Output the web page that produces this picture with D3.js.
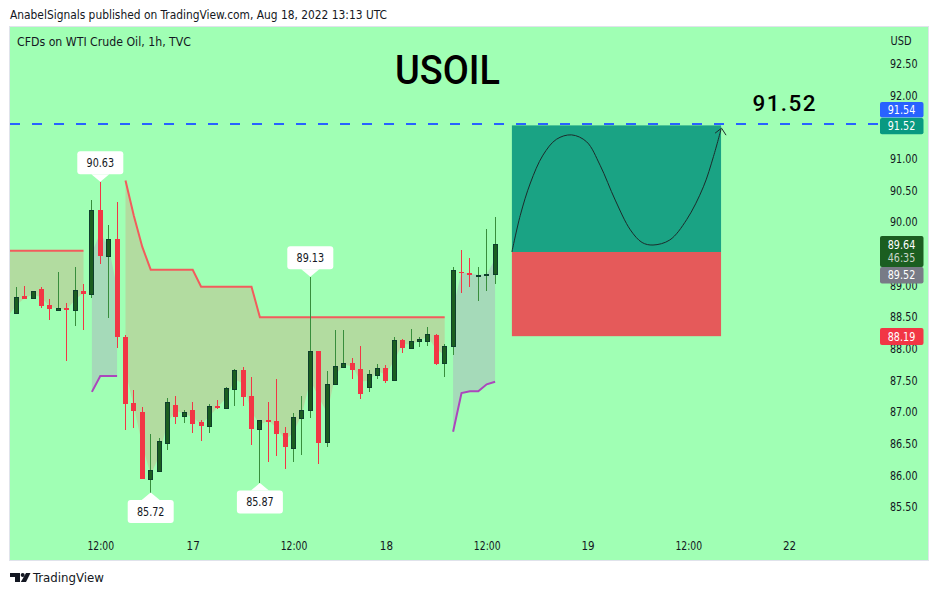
<!DOCTYPE html>
<html><head><meta charset="utf-8">
<script src="https://cdn.jsdelivr.net/npm/d3@7"></script>
<style>html,body{margin:0;padding:0;background:#fff}svg{display:block}
text{font-family:"DejaVu Sans",sans-serif;font-stretch:condensed}</style></head>
<body><svg id="c" width="938" height="595"></svg>
<script>
const opens =[88.47,88.55,88.82,88.79,88.93,88.69,88.61,88.63,88.60,88.91,88.85,90.18,89.46,89.73,88.17,87.13,87.00,85.93,86.06,86.51,87.10,86.93,87.02,86.83,86.77,87.09,87.06,87.36,87.66,87.25,86.73,86.87,86.85,86.66,86.43,86.89,87.03,87.96,86.52,87.44,87.71,87.77,87.67,87.38,87.58,87.69,87.49,88.13,88.00,88.11,88.12,88.21,87.76,88.03,89.21,89.19,89.16,89.16,89.17];
const highs =[88.60,88.96,88.99,88.91,88.96,88.77,89.21,88.71,89.29,89.01,90.34,90.63,89.94,90.31,88.21,87.34,87.07,86.64,86.58,87.21,87.25,87.02,87.15,86.87,87.12,87.18,87.39,87.67,87.71,87.55,86.86,87.15,87.52,86.75,86.98,87.25,89.13,87.96,87.64,88.28,88.28,87.85,88.04,87.66,87.75,87.74,88.18,88.15,88.31,88.18,88.34,88.23,88.07,89.28,89.55,89.42,89.29,89.88,90.07];
const lows  =[88.40,88.55,88.77,88.79,88.63,88.44,88.58,87.80,88.35,88.28,88.79,89.33,88.47,88.01,86.70,86.74,85.93,85.72,86.04,86.39,86.80,86.82,86.66,86.53,86.66,87.04,87.06,87.08,87.09,86.47,85.87,86.20,86.29,86.09,86.20,86.31,86.90,86.17,86.44,87.44,87.71,87.52,87.20,87.31,87.52,87.45,87.49,87.93,88.00,88.02,88.04,87.74,87.55,87.90,88.87,88.96,88.74,88.91,89.02];
const closes=[88.54,88.81,88.77,88.91,88.67,88.62,88.63,88.60,88.92,88.85,90.18,89.46,89.73,88.17,87.12,87.01,85.93,86.07,86.53,87.15,86.92,87.00,86.80,86.77,87.08,87.06,87.37,87.65,87.23,86.73,86.86,86.84,86.64,86.44,86.91,87.03,87.96,86.50,87.43,87.72,87.77,87.66,87.28,87.59,87.69,87.48,88.13,88.01,88.11,88.15,88.23,87.75,88.03,89.23,89.20,89.16,89.16,89.18,89.65];
const N=null;
const upperLine=[89.54,89.54,89.54,89.54,89.54,89.54,89.54,89.54,89.54,89.54,N,N,N,N,90.65,90.09,89.60,89.24,89.24,89.24,89.24,89.24,89.24,88.97,88.97,88.97,88.97,88.97,88.97,88.97,88.49,88.49,88.49,88.49,88.49,88.49,88.49,88.49,88.49,88.49,88.49,88.49,88.49,88.49,88.49,88.49,88.49,88.49,88.49,88.49,88.49,88.49,88.49,N,N,N,N,N,N];
const lowerLine=[N,N,N,N,N,N,N,N,N,N,87.31,87.56,87.56,87.56,N,N,N,N,N,N,N,N,N,N,N,N,N,N,N,N,N,N,N,N,N,N,N,N,N,N,N,N,N,N,N,N,N,N,N,N,N,N,N,86.68,87.29,87.32,87.32,87.43,87.47];
const priceTicks=[85.5,86,86.5,87,87.5,88,88.5,89,90,90.5,91,92,92.5];
const timeTickBars=[11,22,34,45,57,69,81,93];
const timeTickLabels=["12:00","17","12:00","18","12:00","19","12:00","22"];
const calloutBars=[11,17,30,36];
const calloutPrices=[90.63,85.72,85.87,89.13];
const calloutDirs=["high","low","low","high"];
const tradeBars=[60,84.9];
const tradeLevels={target:91.52,entry:89.52,stop:88.19};
const curveBars=[60.0,61.0,62.2,63.7,65.3,67.1,68.9,70.5,72.3,74.1,75.5,76.8,78.8,80.8,82.8,84.0,84.9];
const curvePrices=[89.52,90.10,90.61,91.05,91.30,91.37,91.26,90.89,90.34,89.87,89.67,89.63,89.71,90.03,90.55,91.03,91.46];
const hLinePrice=91.54;
const tags=[
 {t:"91.54",y0:102,y1:117.5,c:"#2962ff"},
 {t:"91.52",y0:118,y1:134.3,c:"#089981"},
 {t:"89.52",y0:267,y1:283.5,c:"#787b86"},
 {t:"88.19",y0:328,y1:345,c:"#f23645"}];

const svg=d3.select("#c");
const x=d3.scaleLinear().domain([0,100]).range([7.9,847.9]);
const y=d3.scaleLinear().domain([85.5,92.5]).range([506.45,63.35]);
const pane={l:10,t:27,r:928,b:560};
const BG="#a0ffb4",UP="#1b5e20",UPB="#0e3f2c",UPW="#388e3c",DN="#f23645";
const FS=11.5,W5=27.5;

svg.append("rect").attr("x",pane.l-.5).attr("y",pane.t-.5).attr("width",pane.r-pane.l+1).attr("height",pane.b-pane.t+1)
  .attr("fill",BG).attr("stroke","#e0e3eb");
const defs=svg.append("defs");
defs.append("clipPath").attr("id","pc").append("rect").attr("x",pane.l).attr("y",pane.t).attr("width",pane.r-pane.l).attr("height",pane.b-pane.t);
const g=svg.append("g").attr("clip-path","url(#pc)");

const bars=d3.range(opens.length);
const mid=i=>(opens[i]+closes[i])/2;
const areaOf=(arr)=>d3.area().defined(i=>arr[i]!=null).x(i=>x(i)).y0(i=>y(arr[i])).y1(i=>y(mid(i)));
const lineOf=(arr)=>d3.line().defined(i=>arr[i]!=null).x(i=>x(i)).y(i=>y(arr[i]));
g.append("path").attr("d",areaOf(upperLine)(bars)).attr("fill","#b2dca0");
g.append("path").attr("d",areaOf(lowerLine)(bars)).attr("fill","#a5dab9");
g.append("path").attr("d",lineOf(upperLine)(bars)).attr("fill","none").attr("stroke","#f25c5c").attr("stroke-width",2);
g.append("path").attr("d",lineOf(lowerLine)(bars)).attr("fill","none").attr("stroke","#ab47bc").attr("stroke-width",2);

bars.forEach(i=>{
  const up=closes[i]>=opens[i],xc=x(i),px=Math.floor(xc)+.5;
  g.append("line").attr("x1",px).attr("x2",px).attr("y1",y(highs[i])).attr("y2",y(lows[i]))
    .attr("stroke",up?UPW:DN).attr("stroke-width",1).attr("shape-rendering","crispEdges");
  const t=Math.round(y(Math.max(opens[i],closes[i]))),b=Math.round(y(Math.min(opens[i],closes[i])));
  const r=g.append("rect").attr("shape-rendering","crispEdges");
  if(up) r.attr("x",Math.floor(xc)-1.5).attr("width",4).attr("y",t+.5).attr("height",Math.max(b-t,.5)).attr("fill",UP).attr("stroke",UPB);
  else r.attr("x",Math.floor(xc)-2).attr("width",5).attr("y",t).attr("height",Math.max(b-t,1)).attr("fill",DN);
});

// trade box
g.append("rect").attr("x",x(tradeBars[0])).attr("width",x(tradeBars[1])-x(tradeBars[0])).attr("y",y(tradeLevels.target)).attr("height",y(tradeLevels.entry)-y(tradeLevels.target)).attr("fill","#1aa384");
g.append("rect").attr("x",x(tradeBars[0])).attr("width",x(tradeBars[1])-x(tradeBars[0])).attr("y",y(tradeLevels.entry)).attr("height",y(tradeLevels.stop)-y(tradeLevels.entry)).attr("fill","#e55a5a");
const curve=d3.line().curve(d3.curveCatmullRom.alpha(.5)).x(i=>x(curveBars[i])).y(i=>y(curvePrices[i]));
g.append("path").attr("d",curve(d3.range(curveBars.length))).attr("fill","none").attr("stroke","#1c2b2b").attr("stroke-width",1);
const ax=x(curveBars[curveBars.length-1]),ay=y(curvePrices[curvePrices.length-1]);
g.append("path").attr("d",`M${ax-6},${ay+4}L${ax+.5},${ay-1}L${ax+5},${ay+6}`).attr("fill","none").attr("stroke","#1c2b2b").attr("stroke-width",1);

// dashed price line
g.append("line").attr("x1",pane.l).attr("x2",878).attr("y1",y(hLinePrice)).attr("y2",y(hLinePrice)).attr("stroke","#2962ff").attr("stroke-width",2).attr("stroke-dasharray","10 12");

const fit=(sel,w)=>sel.attr("textLength",w).attr("lengthAdjust","spacingAndGlyphs");

// callouts
calloutBars.forEach((b,i)=>{
  const px=x(b),py=y(calloutPrices[i]),s=calloutDirs[i]==="high"?-1:1;
  const w=46,h=23,gap=7.5,r=3,yn=py+s*gap,yf=yn+s*h;
  const top=Math.min(yn,yf);
  svg.append("path").attr("fill","#fff").attr("d",`M${px},${py}L${px+9},${yn}L${px-9},${yn}Z`);
  svg.append("rect").attr("x",px-w/2).attr("y",top).attr("width",w).attr("height",h).attr("rx",r).attr("fill","#fff");
  fit(svg.append("text").attr("x",px).attr("y",top+h/2).attr("dy",".36em").attr("text-anchor","middle").attr("font-size",FS).attr("fill","#131722").text(calloutPrices[i].toFixed(2)),W5);
});

// axes
const yAxis=d3.axisRight(y).tickValues(priceTicks).tickSize(0).tickPadding(0).tickFormat(d3.format(".2f"));
const ya=svg.append("g").attr("transform","translate(890,0.6)").call(yAxis);
const xAxis=d3.axisBottom(x).tickValues(timeTickBars).tickSize(0).tickPadding(0).tickFormat((d,i)=>timeTickLabels[i]);
const xa=svg.append("g").attr("transform","translate(0,541.5)").call(xAxis);
[ya,xa].forEach(a=>{a.select(".domain").remove();a.selectAll("text").attr("font-family",'"DejaVu Sans",sans-serif').attr("font-size",FS).attr("fill","#131722");});
fit(ya.selectAll("text"),W5);
xa.selectAll("text").filter(d=>timeTickLabels[timeTickBars.indexOf(d)].length===5).call(fit,W5-.8);

// price tags
tags.forEach(d=>{
  svg.append("rect").attr("x",880).attr("y",d.y0).attr("width",43.5).attr("height",d.y1-d.y0).attr("rx",2).attr("fill",d.c);
  fit(svg.append("text").attr("x",901.5).attr("y",(d.y0+d.y1)/2).attr("dy",".36em").attr("text-anchor","middle").attr("font-size",FS).attr("fill","#fff").text(d.t),W5);
});
svg.append("rect").attr("x",880).attr("y",236).attr("width",43.5).attr("height",31).attr("rx",2).attr("fill","#1b5e20");
fit(svg.append("text").attr("x",901.5).attr("y",244.6).attr("dy",".36em").attr("text-anchor","middle").attr("font-size",FS).attr("fill","#fff").text("89.64"),W5);
fit(svg.append("text").attr("x",901.5).attr("y",258).attr("dy",".36em").attr("text-anchor","middle").attr("font-size",FS).attr("fill","#c9d6ca").text("46:35"),W5);

// texts
const T=(s,xx,yy,size,opts={})=>{const t=svg.append("text").attr("x",xx).attr("y",yy).attr("dy",".36em").attr("font-size",size).attr("fill",opts.c||"#131722").attr("font-weight",opts.w||400).text(s);
 if(opts.f)t.style("font-family",opts.f).style("font-stretch","normal"); if(opts.a)t.attr("text-anchor",opts.a); if(opts.len)fit(t,opts.len); return t;};
T("AnabelSignals published on TradingView.com, Aug 18, 2022 13:13 UTC",10,15,FS,{len:377});
T("CFDs on WTI Crude Oil, 1h, TVC",17,41.5,FS,{len:174});
T("USD",901,41,FS,{a:"middle",len:21});
T("USOIL",395,69.5,40,{w:500,c:"#000",len:105,f:"Roboto"});
T("91.52",752.5,102.5,22.5,{w:500,c:"#000",f:"Roboto"}).attr("textLength",63).attr("lengthAdjust","spacing");
T("TradingView",33,577.5,13,{len:71});
// logo
svg.append("path").attr("fill","#131722").attr("d","M10,573H20V582H15V577H10Z");
svg.append("circle").attr("cx",22.7).attr("cy",575).attr("r",2).attr("fill","#131722");
svg.append("path").attr("fill","#131722").attr("d","M26,573H30.5L26,582H20.8Z");
</script></body></html>
